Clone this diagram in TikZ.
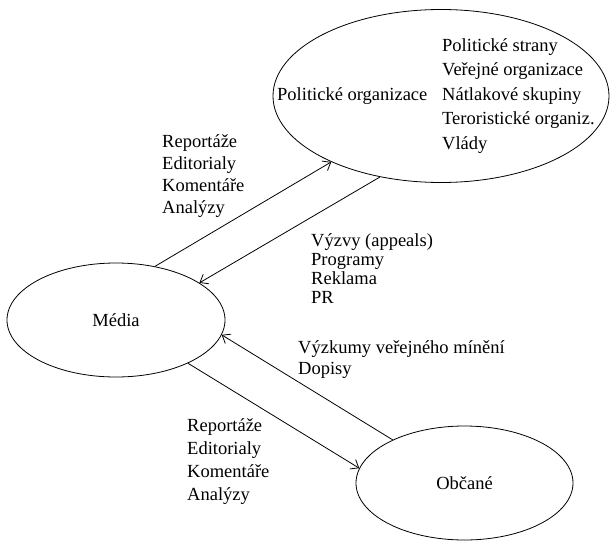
\documentclass[tikz,border=0pt]{standalone}
\usepackage{fontspec}
\setmainfont{Liberation Serif}
\usetikzlibrary{shapes.geometric,arrows.meta}
\begin{document}
\begin{tikzpicture}[x=1pt,y=-1pt,
  oval/.style={draw,ellipse,line width=0.8pt,inner sep=0pt},
  flow/.style={-{Straight Barb[length=7pt,width=11pt]},line width=0.8pt},
  txt/.style={font=\fontsize{18.5}{21.5}\selectfont},
  lbl/.style={anchor=base west,inner sep=0pt,align=left}]
\useasboundingbox (0,0) rectangle (611,541);

% actors
\node[oval,minimum width=336pt,minimum height=173pt] (pol) at (441,96) {};
\node[oval,txt,minimum width=218pt,minimum height=114pt] (media) at (116,320) {Média};
\node[oval,txt,minimum width=217pt,minimum height=114pt] (obc) at (464.5,483) {Občané};

% texts inside the political ellipse (anchored at the last baseline)
\node[lbl,font=\fontsize{18.5}{21}\selectfont] (poltitle) at (277,100) {Politické organizace};
\node[lbl,font=\fontsize{18.5}{24.5}\selectfont] (pollist) at (442,149)
  {Politické strany\\Veřejné organizace\\Nátlakové skupiny\\Teroristické organiz.\\Vlády};

% flows between actors
\draw[flow] (media.54) -- (pol.211);
\draw[flow] (pol.233) -- (media.24);
\draw[flow] (obc.149) -- (media.352);
\draw[flow] (media.329) -- (obc.172);

% flow labels
\node[lbl,font=\fontsize{18.5}{22}\selectfont] (toPol) at (162,213)
  {Reportáže\\Editorialy\\Komentáře\\Analýzy};
\node[lbl,font=\fontsize{18.5}{19}\selectfont] (fromPol) at (311,303)
  {Výzvy (appeals)\\Programy\\Reklama\\PR};
\node[lbl,font=\fontsize{18.5}{21}\selectfont] (fromObc) at (298,374)
  {Výzkumy veřejného mínění\\Dopisy};
\node[lbl,font=\fontsize{18.5}{22.7}\selectfont] (toObc) at (187,500)
  {Reportáže\\Editorialy\\Komentáře\\Analýzy};
\end{tikzpicture}
\end{document}
